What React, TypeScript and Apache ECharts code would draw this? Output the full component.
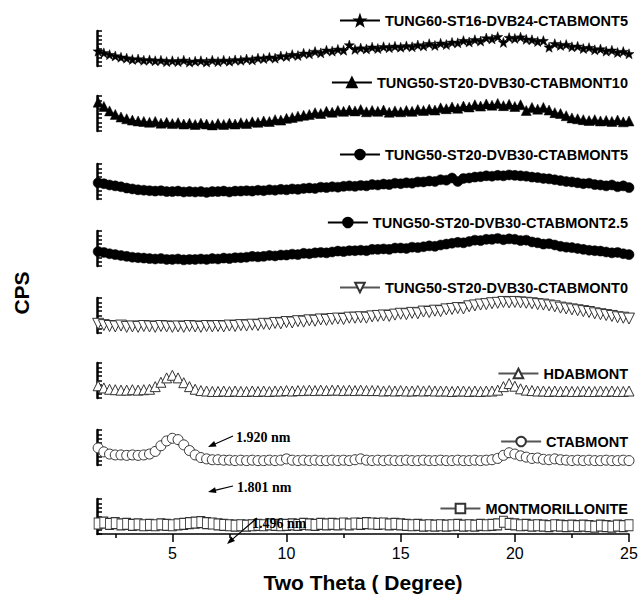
import React, { useEffect, useRef } from 'react';
import * as echarts from 'echarts';

// ---------- data ----------
const twoTheta = [1.75, 2, 2.25, 2.5, 2.75, 3, 3.25, 3.5, 3.75, 4, 4.25, 4.5, 4.75, 5, 5.25, 5.5, 5.75, 6, 6.25, 6.5, 6.75, 7, 7.25, 7.5, 7.75, 8, 8.25, 8.5, 8.75, 9, 9.25, 9.5, 9.75, 10, 10.25, 10.5, 10.75, 11, 11.25, 11.5, 11.75, 12, 12.25, 12.5, 12.75, 13, 13.25, 13.5, 13.75, 14, 14.25, 14.5, 14.75, 15, 15.25, 15.5, 15.75, 16, 16.25, 16.5, 16.75, 17, 17.25, 17.5, 17.75, 18, 18.25, 18.5, 18.75, 19, 19.25, 19.5, 19.75, 20, 20.25, 20.5, 20.75, 21, 21.25, 21.5, 21.75, 22, 22.25, 22.5, 22.75, 23, 23.25, 23.5, 23.75, 24, 24.25, 24.5, 24.75, 25];

const tung60Ctab5 = [3.4,
  3.0, 2.6, 2.3, 2.0, 1.8, 1.5, 1.6, 1.3, 1.4, 1.2, 1.3, 1.0, 1.2, 1.0, 1.3, 0.9,
  1.1, 1.2, 0.9, 1.3, 1.0, 1.3, 1.1, 1.4, 1.3, 1.6, 1.4, 1.8, 1.7, 2.0, 1.8, 2.3,
  2.2, 2.6, 2.4, 2.9, 2.8, 3.3, 3.0, 3.6, 3.4, 3.8, 3.6, 4.8, 3.8, 4.1, 3.9, 4.3,
  4.0, 4.4, 4.2, 4.5, 4.3, 4.6, 4.4, 4.8, 4.6, 5.1, 4.7, 5.2, 4.9, 5.4, 5.3, 5.8,
  5.5, 6.0, 5.7, 6.4, 6.2, 6.7, 5.4, 6.5, 6.3, 6.6, 6.1, 6.0, 5.6, 5.8, 4.3, 5.1,
  4.7, 4.9, 4.4, 4.5, 4.0, 4.2, 3.7, 3.9, 3.4, 3.6, 3.1, 3.3,
  2.8];

const tung50Ctab10 = [6.6,
  5.6, 4.6, 3.8, 3.2, 2.8, 2.5, 2.3, 2.2, 2.0, 2.2, 1.8, 2.0, 1.7, 1.9, 1.6, 1.8,
  1.5, 1.8, 1.6, 1.4, 1.7, 1.5, 1.8, 1.6, 1.9, 1.7, 2.1, 2.0, 2.3, 2.2, 2.6, 2.5,
  2.9, 3.1, 3.4, 3.6, 3.8, 4.2, 4.0, 4.5, 4.3, 4.7, 4.5, 4.8, 4.6, 4.9, 4.4, 4.7,
  4.5, 4.8, 4.3, 4.6, 4.4, 4.7, 4.5, 4.9, 4.7, 5.0, 4.8, 5.3, 5.1, 5.5, 5.2, 5.7,
  5.5, 6.0, 5.7, 6.2, 5.9, 6.3, 5.8, 6.1, 5.6, 6.0, 4.7, 5.4, 5.0, 5.4, 4.8, 4.2,
  4.0, 3.5, 3.0, 2.8, 2.6, 2.4, 2.6, 2.3, 2.4, 2.2, 2.5, 2.1,
  2.3];

const tung50Ctab5 = [3.7,
  3.5, 3.2, 3.0, 2.8, 2.5, 2.3, 2.1, 2.0, 1.9, 1.8, 1.9, 1.7, 1.7, 1.8, 1.6, 1.7,
  1.6, 1.7, 1.5, 1.7, 1.7, 1.8, 1.6, 1.8, 1.8, 1.9, 1.8, 2.0, 1.9, 2.1, 2.0, 2.2,
  2.1, 2.3, 2.2, 2.4, 2.5, 2.4, 2.7, 2.6, 2.8, 2.7, 2.9, 3.0, 2.9, 3.1, 3.0, 3.3,
  3.2, 3.4, 3.3, 3.6, 3.5, 3.7, 3.6, 3.9, 3.9, 4.1, 4.0, 4.4, 4.3, 4.8, 4.0, 4.7,
  4.8, 5.0, 5.1, 5.3, 5.2, 5.4, 5.3, 5.5, 5.4, 5.3, 5.2, 5.0, 4.9, 4.7, 4.6, 4.4,
  4.2, 4.0, 3.9, 3.7, 3.5, 3.6, 3.3, 3.2, 3.0, 3.2, 2.8, 3.0,
  2.6];

const tung50Ctab25 = [3.3,
  3.1, 2.8, 2.6, 2.4, 2.2, 2.0, 1.9, 1.8, 1.7, 1.6, 1.7, 1.5, 1.5, 1.6, 1.4, 1.5,
  1.5, 1.6, 1.5, 1.7, 1.6, 1.8, 1.7, 1.9, 1.9, 2.0, 2.2, 2.1, 2.2, 2.4, 2.3, 2.5,
  2.5, 2.7, 2.6, 2.9, 2.8, 3.0, 3.1, 3.0, 3.2, 3.4, 3.3, 3.5, 3.5, 3.6, 3.5, 3.8,
  3.8, 3.9, 3.8, 4.1, 4.1, 4.0, 4.3, 4.2, 4.4, 4.6, 4.5, 4.8, 5.0, 5.2, 5.4, 5.3,
  5.6, 5.9, 5.8, 6.1, 6.1, 6.3, 6.0, 6.2, 6.1, 5.8, 5.9, 5.5, 5.3, 5.0, 5.1, 4.8,
  4.5, 4.3, 4.2, 4.0, 3.8, 3.6, 3.5, 3.4, 3.2, 3.0, 3.1, 2.8,
  2.6];

const tung50Ctab0 = [2.1,
  1.8, 1.6, 1.5, 1.7, 1.4, 1.5, 1.4, 1.6, 1.5, 1.4, 1.6, 1.5, 1.4, 1.5, 1.4, 1.6,
  1.5, 1.4, 1.6, 1.5, 1.6, 1.5, 1.7, 1.6, 1.8, 1.7, 1.9, 1.8, 2.1, 2.0, 2.3, 2.2,
  2.5, 2.4, 2.7, 2.6, 2.9, 2.8, 3.1, 3.0, 3.2, 3.3, 3.2, 3.5, 3.5, 3.6, 3.5, 3.8,
  3.9, 4.0, 3.9, 4.2, 4.4, 4.3, 4.6, 4.5, 4.9, 4.8, 5.1, 5.0, 5.4, 5.5, 5.7, 5.6,
  6.1, 6.3, 6.5, 6.6, 6.8, 6.9, 7.1, 7.0, 7.1, 7.0, 6.9, 6.8, 6.6, 6.5, 6.3, 6.1,
  5.8, 5.6, 5.4, 5.2, 5.0, 4.8, 4.5, 4.3, 4.1, 3.9, 3.6, 3.5,
  3.3];

const hdabMont = [2.8,
  2.3, 2.0, 1.9, 1.8, 1.8, 1.9, 1.8, 1.9, 2.0, 2.6, 3.6, 4.6, 5.2, 4.6, 3.5, 2.6,
  2.0, 1.7, 1.6, 1.5, 1.5, 1.6, 1.5, 1.6, 1.5, 1.5, 1.6, 1.5, 1.6, 1.5, 1.6, 1.6,
  1.7, 1.6, 1.7, 1.7, 1.8, 1.7, 1.8, 1.7, 1.8, 1.8, 1.7, 1.8, 1.7, 1.8, 1.7, 1.7,
  1.7, 1.6, 1.7, 1.6, 1.7, 1.6, 1.6, 1.7, 1.6, 1.7, 1.6, 1.6, 1.6, 1.5, 1.6, 1.6,
  1.5, 1.6, 1.5, 1.6, 1.6, 1.8, 2.6, 3.3, 2.7, 2.1, 1.8, 1.7, 1.6, 1.6, 1.5, 1.6,
  1.5, 1.6, 1.5, 1.5, 1.6, 1.5, 1.5, 1.6, 1.5, 1.6, 1.5, 1.5,
  1.6];

const ctabMont = [3.9,
  3.0, 2.5, 2.3, 2.3, 2.2, 2.3, 2.2, 2.3, 2.5, 3.1, 4.4, 5.5, 6.1, 5.8, 4.6, 3.3,
  2.3, 1.7, 1.4, 1.2, 1.2, 1.1, 1.1, 1.0, 1.1, 1.0, 1.1, 1.0, 1.0, 1.1, 1.0, 1.1,
  1.4, 1.1, 1.0, 1.1, 1.0, 1.1, 1.0, 1.0, 1.1, 1.0, 1.1, 1.0, 1.2, 1.4, 1.1, 1.0,
  1.1, 1.0, 1.1, 1.0, 1.0, 1.1, 1.0, 1.0, 1.1, 1.0, 1.0, 1.1, 1.0, 1.0, 1.1, 1.0,
  1.0, 1.1, 1.0, 1.1, 1.2, 1.5, 2.2, 2.8, 2.5, 2.1, 1.8, 1.5, 1.6, 1.3, 1.2, 1.4,
  1.2, 1.1, 1.0, 1.1, 1.0, 1.1, 1.0, 1.0, 1.1, 1.0, 1.0, 1.1,
  1.0];

const montmorillonite = [2.4,
  2.6, 2.3, 2.5, 2.2, 2.3, 2.1, 2.2, 2.0, 2.1, 2.0, 2.2, 2.1, 2.0, 2.2, 2.3, 2.5,
  2.6, 2.7, 2.5, 2.4, 2.2, 2.1, 2.0, 1.9, 2.0, 1.9, 2.0, 2.1, 2.0, 2.2, 2.1, 2.0,
  2.1, 2.2, 2.1, 2.3, 2.2, 2.1, 2.3, 2.2, 2.3, 2.2, 2.4, 2.2, 2.4, 2.3, 2.5, 2.4,
  2.3, 2.4, 2.2, 2.3, 2.2, 2.1, 2.0, 2.1, 1.9, 2.0, 1.9, 2.0, 1.9, 2.0, 2.1, 1.9,
  2.0, 1.9, 2.1, 2.0, 2.1, 2.2, 2.8, 2.3, 2.2, 2.0, 2.1, 1.9, 2.0, 1.9, 1.8, 2.0,
  1.9, 1.8, 1.9, 1.8, 1.9, 1.8, 1.7, 1.9, 1.8, 1.7, 1.9, 1.8,
  2.0];

const seriesNames = [
  'TUNG60-ST16-DVB24-CTABMONT5',
  'TUNG50-ST20-DVB30-CTABMONT10',
  'TUNG50-ST20-DVB30-CTABMONT5',
  'TUNG50-ST20-DVB30-CTABMONT2.5',
  'TUNG50-ST20-DVB30-CTABMONT0',
  'HDABMONT',
  'CTABMONT',
  'MONTMORILLONITE',
];
const seriesValues = [tung60Ctab5, tung50Ctab10, tung50Ctab5, tung50Ctab25, tung50Ctab0, hdabMont, ctabMont, montmorillonite];

const xTickValues = [5, 10, 15, 20, 25];
const xMinorTickValues = [2.5, 7.5, 12.5, 17.5, 22.5];
const annotationTexts = ['1.920 nm', '1.801 nm', '1.496 nm'];

// ---------- layout / style ----------
const W = 640;
const H = 604;
const GRID_LEFT = 97;
const GRID_RIGHT = 11;
const GRID_TOPS = [31, 96, 164, 231, 298, 363, 430, 499];
const GRID_H = 35;
const LEGEND_CENTERS = [21, 83, 155, 223, 288, 374, 442, 509];
const X_MIN = 1.7;
const X_MAX = 25;

const STAR = 'path://M0,-10L2.35,-3.24L9.51,-3.09L3.8,1.24L5.88,8.09L0,4L-5.88,8.09L-3.8,1.24L-9.51,-3.09L-2.35,-3.24Z';
const SYMBOLS = [STAR, 'triangle', 'circle', 'circle', 'triangle', 'triangle', 'circle', 'rect'];
const ROTATE = [0, 0, 0, 0, 180, 0, 0, 0];
const SIZES: any[] = [10, 10, 10, 10, 11, 10, 10, [8, 11]];
const FILLED = [true, true, true, true, false, false, false, false];

const SANS = "'Liberation Sans', Arial, sans-serif";
const SERIF = "'Liberation Serif', 'Times New Roman', serif";

// annotation arrows in pixels: [fromX, fromY, toX, toY, textX, textY]
const ARROWS = [
  [233, 436, 208, 447, 236, 437],
  [233, 486, 208, 492, 237, 487],
  [257, 518, 227, 544, 252, 523],
];

function arrowElements() {
  const els: any[] = [];
  ARROWS.forEach((a, i) => {
    const [fx, fy, tx, ty, lx, ly] = a;
    const dx = tx - fx;
    const dy = ty - fy;
    const len = Math.sqrt(dx * dx + dy * dy);
    const ux = dx / len;
    const uy = dy / len;
    const nx = -uy;
    const ny = ux;
    const hl = 8;
    const hw = 3;
    els.push({
      type: 'line',
      shape: { x1: fx, y1: fy, x2: tx - ux * (hl - 1), y2: ty - uy * (hl - 1) },
      style: { stroke: '#000', lineWidth: 1.2 },
      z: 100,
    });
    els.push({
      type: 'polygon',
      shape: {
        points: [
          [tx, ty],
          [tx - ux * hl + nx * hw, ty - uy * hl + ny * hw],
          [tx - ux * hl - nx * hw, ty - uy * hl - ny * hw],
        ],
      },
      style: { fill: '#000' },
      z: 100,
    });
    els.push({
      type: 'text',
      x: lx,
      y: ly,
      z: 100,
      style: {
        text: annotationTexts[i],
        fill: '#000',
        fontFamily: SERIF,
        fontWeight: 'bold',
        fontSize: 14,
        align: 'left',
        verticalAlign: 'middle',
      },
    });
  });
  return els;
}

export default function App() {
  const ref = useRef<HTMLDivElement>(null);
  useEffect(() => {
    if (!ref.current) return;
    const chart = echarts.init(ref.current, null, { renderer: 'svg' });

    const grids = GRID_TOPS.map((t) => ({
      left: GRID_LEFT,
      right: GRID_RIGHT,
      top: t,
      height: GRID_H,
      outerBoundsMode: 'none',
      containLabel: false,
    }));

    const xAxes: any[] = GRID_TOPS.map((_, i) => {
      if (i < GRID_TOPS.length - 1) {
        return { type: 'value', gridIndex: i, min: X_MIN, max: X_MAX, show: false };
      }
      return {
        type: 'value',
        gridIndex: i,
        min: X_MIN,
        max: X_MAX,
        position: 'bottom',
        axisLine: { show: true, onZero: false, lineStyle: { color: '#000', width: 1.5 } },
        axisTick: { show: true, customValues: xTickValues, length: 8, lineStyle: { color: '#000', width: 1.5 } },
        axisLabel: {
          show: true,
          customValues: xTickValues,
          color: '#000',
          fontSize: 16,
          fontFamily: SANS,
          margin: 11,
        },
        splitLine: { show: false },
        name: 'Two Theta ( Degree)',
        nameLocation: 'middle',
        nameGap: 38,
        nameTextStyle: { color: '#000', fontSize: 21, fontWeight: 'bold', fontFamily: SANS },
      };
    });
    xAxes.push({
      type: 'value',
      gridIndex: GRID_TOPS.length - 1,
      min: X_MIN,
      max: X_MAX,
      position: 'bottom',
      axisLine: { show: false, onZero: false },
      axisTick: { show: true, customValues: xMinorTickValues, length: 4, lineStyle: { color: '#000', width: 1.5 } },
      axisLabel: { show: false },
      splitLine: { show: false },
    });

    const yAxes = GRID_TOPS.map((_, i) => ({
      type: 'value',
      gridIndex: i,
      min: 0,
      max: 8,
      interval: 1,
      axisLine: { show: true, onZero: false, lineStyle: { color: '#000', width: 2.5 } },
      axisTick: { show: true, inside: true, length: 5, lineStyle: { color: '#000', width: 1.5 } },
      axisLabel: { show: false },
      splitLine: { show: false },
    }));

    const series = seriesNames.map((name, i) => ({
      type: 'line',
      name,
      xAxisIndex: i,
      yAxisIndex: i,
      data: twoTheta.map((x, j) => [x, seriesValues[i][j]]),
      symbol: SYMBOLS[i],
      symbolRotate: ROTATE[i],
      symbolSize: SIZES[i],
      showSymbol: true,
      showAllSymbol: true,
      clip: false,
      lineStyle: { color: FILLED[i] ? '#000' : '#555', width: 1 },
      itemStyle: FILLED[i]
        ? { color: '#000', borderColor: '#000', borderWidth: 0.5 }
        : { color: '#fff', borderColor: '#333', borderWidth: 1 },
      emphasis: { disabled: true },
      z: 2,
    }));

    const legends = seriesNames.map((name, i) => ({
      data: [name],
      right: 12,
      top: LEGEND_CENTERS[i] - 8,
      padding: 0,
      orient: 'horizontal',
      itemWidth: 40,
      itemHeight: 12,
      itemGap: 0,
      selectedMode: false,
      symbolRotate: 'inherit',
      textStyle: { color: '#000', fontSize: 14.5, fontWeight: 'bold', fontFamily: SANS },
    }));

    chart.setOption({
      animation: false,
      backgroundColor: '#fff',
      grid: grids,
      xAxis: xAxes,
      yAxis: yAxes,
      legend: legends,
      series,
      graphic: [
        {
          type: 'text',
          x: 21,
          y: 293,
          rotation: Math.PI / 2,
          style: {
            text: 'CPS',
            fill: '#000',
            fontSize: 21,
            fontWeight: 'bold',
            fontFamily: SANS,
            align: 'center',
            verticalAlign: 'middle',
          },
        },
        ...arrowElements(),
      ],
    });
    return () => chart.dispose();
  }, []);

  return <div ref={ref} style={{ position: 'fixed', left: 0, top: 0, width: W, height: H, background: '#fff' }} />;
}
